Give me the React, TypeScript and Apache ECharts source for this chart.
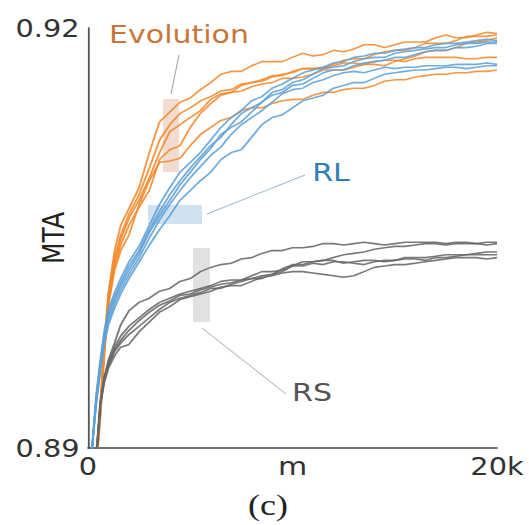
import React, { useEffect, useRef } from "react";
import * as echarts from "echarts";

// training step (m) shared by every run
const STEPS = [0, 200, 400, 600, 800, 1000, 1300, 1600, 2000, 2500, 3000, 3500, 4000, 4500, 5000, 5500,
  6000, 6500, 7000, 7500, 8000, 8500, 9000, 9500, 10000, 10500, 11000, 11500, 12000, 12500, 13000, 13500,
  14000, 14500, 15000, 15500, 16000, 16500, 17000, 17500, 18000, 18500, 19000, 19500, 20000];

const EVOLUTION_RUNS = [
  [0.8878, 0.8884, 0.8888, 0.8931, 0.8977, 0.9011, 0.9041, 0.9059, 0.9071, 0.9086, 0.9111, 0.9133, 0.9140, 0.9147, 0.9150, 0.9156,
    0.9161, 0.9167, 0.9169, 0.9169, 0.9173, 0.9176, 0.9176, 0.9176, 0.9179, 0.9182, 0.9180, 0.9181, 0.9184, 0.9183, 0.9185, 0.9188, 0.9188, 0.9186, 0.9188, 0.9190, 0.9190, 0.9190, 0.9193, 0.9195, 0.9193, 0.9193, 0.9195, 0.9197, 0.9196],
  [0.8876, 0.8882, 0.8887, 0.8927, 0.8974, 0.9009, 0.9036, 0.9052, 0.9067, 0.9081, 0.9100, 0.9120, 0.9131, 0.9139, 0.9143, 0.9148,
    0.9151, 0.9155, 0.9156, 0.9160, 0.9161, 0.9162, 0.9165, 0.9167, 0.9168, 0.9171, 0.9171, 0.9172, 0.9174, 0.9177, 0.9178, 0.9178, 0.9181, 0.9183, 0.9184, 0.9184, 0.9186, 0.9189, 0.9189, 0.9189, 0.9191, 0.9194, 0.9194, 0.9194, 0.9195],
  [0.8875, 0.8881, 0.8886, 0.8926, 0.8971, 0.9007, 0.9033, 0.9049, 0.9064, 0.9077, 0.9093, 0.9111, 0.9126, 0.9131, 0.9136, 0.9141,
    0.9149, 0.9153, 0.9154, 0.9155, 0.9158, 0.9160, 0.9161, 0.9164, 0.9164, 0.9165, 0.9167, 0.9170, 0.9170, 0.9170, 0.9172, 0.9174, 0.9174, 0.9173, 0.9176, 0.9178, 0.9180, 0.9183, 0.9184, 0.9184, 0.9186, 0.9189, 0.9190, 0.9191, 0.9193],
  [0.8874, 0.8880, 0.8885, 0.8924, 0.8970, 0.9004, 0.9030, 0.9045, 0.9059, 0.9072, 0.9084, 0.9106, 0.9113, 0.9116, 0.9129, 0.9139,
    0.9146, 0.9152, 0.9154, 0.9159, 0.9161, 0.9163, 0.9166, 0.9166, 0.9169, 0.9171, 0.9171, 0.9171, 0.9173, 0.9175, 0.9175, 0.9174, 0.9176, 0.9177, 0.9177, 0.9176, 0.9178, 0.9179, 0.9179, 0.9179, 0.9179, 0.9178, 0.9178, 0.9179, 0.9179],
  [0.8873, 0.8879, 0.8884, 0.8921, 0.8966, 0.9002, 0.9027, 0.9041, 0.9052, 0.9074, 0.9091, 0.9104, 0.9105, 0.9107, 0.9116, 0.9124,
    0.9129, 0.9134, 0.9136, 0.9141, 0.9143, 0.9143, 0.9146, 0.9148, 0.9149, 0.9149, 0.9152, 0.9154, 0.9154, 0.9156, 0.9157, 0.9157, 0.9159, 0.9162, 0.9163, 0.9163, 0.9165, 0.9166, 0.9167, 0.9167, 0.9168, 0.9168, 0.9169, 0.9169, 0.9170],
];

const RL_RUNS = [
  [0.8870, 0.8900, 0.8938, 0.8963, 0.8984, 0.8999, 0.9011, 0.9021, 0.9033, 0.9044, 0.9059, 0.9074, 0.9086, 0.9097, 0.9104, 0.9111,
    0.9120, 0.9129, 0.9136, 0.9141, 0.9148, 0.9151, 0.9157, 0.9160, 0.9164, 0.9168, 0.9170, 0.9172, 0.9175, 0.9176, 0.9179, 0.9180, 0.9182, 0.9182, 0.9184, 0.9185, 0.9186, 0.9186, 0.9188, 0.9189, 0.9189, 0.9190, 0.9191, 0.9192, 0.9191],
  [0.8870, 0.8900, 0.8936, 0.8960, 0.8981, 0.8996, 0.9008, 0.9018, 0.9030, 0.9041, 0.9056, 0.9069, 0.9081, 0.9091, 0.9100, 0.9108,
    0.9116, 0.9122, 0.9131, 0.9139, 0.9143, 0.9147, 0.9154, 0.9156, 0.9161, 0.9163, 0.9167, 0.9171, 0.9172, 0.9173, 0.9176, 0.9178, 0.9179, 0.9179, 0.9182, 0.9183, 0.9184, 0.9185, 0.9186, 0.9186, 0.9188, 0.9189, 0.9189, 0.9190, 0.9190],
  [0.8870, 0.8900, 0.8934, 0.8958, 0.8979, 0.8994, 0.9006, 0.9016, 0.9027, 0.9039, 0.9054, 0.9066, 0.9077, 0.9088, 0.9097, 0.9106,
    0.9114, 0.9124, 0.9129, 0.9133, 0.9140, 0.9147, 0.9152, 0.9154, 0.9159, 0.9160, 0.9164, 0.9168, 0.9170, 0.9170, 0.9173, 0.9175, 0.9176, 0.9177, 0.9179, 0.9179, 0.9181, 0.9183, 0.9184, 0.9184, 0.9186, 0.9186, 0.9187, 0.9189, 0.9189],
  [0.8870, 0.8900, 0.8933, 0.8956, 0.8977, 0.8991, 0.9003, 0.9013, 0.9024, 0.9036, 0.9050, 0.9063, 0.9074, 0.9084, 0.9093, 0.9101,
    0.9109, 0.9115, 0.9124, 0.9131, 0.9136, 0.9141, 0.9147, 0.9153, 0.9156, 0.9157, 0.9161, 0.9163, 0.9166, 0.9168, 0.9169, 0.9168, 0.9170, 0.9172, 0.9171, 0.9172, 0.9172, 0.9173, 0.9173, 0.9173, 0.9174, 0.9174, 0.9174, 0.9175, 0.9174],
  [0.8870, 0.8900, 0.8931, 0.8954, 0.8975, 0.8988, 0.9000, 0.9010, 0.9021, 0.9033, 0.9045, 0.9056, 0.9066, 0.9077, 0.9084, 0.9091,
    0.9097, 0.9106, 0.9111, 0.9113, 0.9122, 0.9131, 0.9136, 0.9138, 0.9143, 0.9148, 0.9150, 0.9152, 0.9157, 0.9159, 0.9161, 0.9161, 0.9164, 0.9167, 0.9168, 0.9169, 0.9170, 0.9170, 0.9171, 0.9172, 0.9172, 0.9171, 0.9172, 0.9173, 0.9173],
];

const RS_RUNS = [
  [0.8860, 0.8880, 0.8895, 0.8931, 0.8950, 0.8963, 0.8975, 0.8988, 0.8998, 0.9004, 0.9007, 0.9012, 0.9014, 0.9019, 0.9021, 0.9026,
    0.9029, 0.9031, 0.9032, 0.9035, 0.9036, 0.9039, 0.9041, 0.9041, 0.9043, 0.9043, 0.9044, 0.9046, 0.9046, 0.9045, 0.9046, 0.9047, 0.9046, 0.9045, 0.9046, 0.9047, 0.9047, 0.9047, 0.9047, 0.9046, 0.9047, 0.9047, 0.9046, 0.9047, 0.9047],
  [0.8860, 0.8880, 0.8893, 0.8933, 0.8951, 0.8961, 0.8972, 0.8980, 0.8987, 0.8993, 0.8999, 0.9004, 0.9007, 0.9010, 0.9012, 0.9014,
    0.9016, 0.9019, 0.9020, 0.9020, 0.9023, 0.9026, 0.9026, 0.9027, 0.9030, 0.9033, 0.9033, 0.9034, 0.9036, 0.9038, 0.9039, 0.9040, 0.9042, 0.9043, 0.9044, 0.9044, 0.9045, 0.9046, 0.9046, 0.9045, 0.9046, 0.9046, 0.9046, 0.9045, 0.9046],
  [0.8860, 0.8880, 0.8891, 0.8931, 0.8950, 0.8960, 0.8970, 0.8977, 0.8984, 0.8991, 0.8997, 0.9002, 0.9005, 0.9009, 0.9010, 0.9013,
    0.9015, 0.9017, 0.9018, 0.9020, 0.9021, 0.9021, 0.9024, 0.9028, 0.9031, 0.9031, 0.9033, 0.9034, 0.9034, 0.9032, 0.9033, 0.9034, 0.9034, 0.9033, 0.9034, 0.9036, 0.9036, 0.9036, 0.9037, 0.9038, 0.9038, 0.9038, 0.9039, 0.9040, 0.9040],
  [0.8860, 0.8880, 0.8890, 0.8931, 0.8949, 0.8959, 0.8969, 0.8975, 0.8981, 0.8987, 0.8993, 0.8999, 0.9004, 0.9007, 0.9009, 0.9011,
    0.9014, 0.9014, 0.9017, 0.9019, 0.9021, 0.9023, 0.9024, 0.9026, 0.9030, 0.9030, 0.9032, 0.9031, 0.9033, 0.9033, 0.9032, 0.9031, 0.9033, 0.9034, 0.9034, 0.9035, 0.9035, 0.9034, 0.9036, 0.9036, 0.9037, 0.9038, 0.9038, 0.9038, 0.9038],
  [0.8860, 0.8880, 0.8890, 0.8930, 0.8947, 0.8957, 0.8966, 0.8972, 0.8974, 0.8983, 0.8990, 0.8997, 0.9001, 0.9006, 0.9008, 0.9010,
    0.9012, 0.9015, 0.9016, 0.9016, 0.9019, 0.9022, 0.9023, 0.9025, 0.9026, 0.9026, 0.9025, 0.9024, 0.9023, 0.9022, 0.9023, 0.9026, 0.9029, 0.9030, 0.9031, 0.9031, 0.9032, 0.9033, 0.9034, 0.9035, 0.9036, 0.9036, 0.9036, 0.9035, 0.9036],
];

const X_TICKS = [0, 20000];
const X_TICK_LABELS = ["0", "20k"];
const Y_TICKS = [0.89, 0.92];
const Y_TICK_LABELS = ["0.89", "0.92"];
const X_NAME = "m";
const Y_NAME = "MTA";
const GROUP_NAMES = ["Evolution", "RL", "RS"];
const PANEL_LABEL = "(c)";

const SX = 1.2; // the figure is horizontally stretched
const FONT = "DejaVu Sans";

export default function App() {
  const ref = useRef<HTMLDivElement>(null);
  useEffect(() => {
    if (!ref.current) return;
    const chart = echarts.init(ref.current, undefined, { renderer: "svg" });
    const px = (v: number) => v / SX;

    const groups = [
      { name: GROUP_NAMES[0], runs: EVOLUTION_RUNS, color: "#f4892a" },
      { name: GROUP_NAMES[1], runs: RL_RUNS, color: "#5da1d8" },
      { name: GROUP_NAMES[2], runs: RS_RUNS, color: "#666666" },
    ];
    const series: any[] = [];
    groups.forEach((g) => {
      g.runs.forEach((ys, i) => {
        series.push({
          type: "line",
          name: `${g.name} ${i + 1}`,
          data: STEPS.map((x, j) => [x, ys[j]]),
          symbol: "none",
          showSymbol: false,
          clip: true,
          silent: true,
          lineStyle: { color: g.color, width: 1.6, opacity: 0.88 },
        });
      });
    });

    const option: any = {
      animation: false,
      grid: { left: px(88), top: 28, width: px(409), height: 420, containLabel: false, outerBoundsMode: "none" },
      xAxis: {
        type: "value",
        min: 0,
        max: 20000,
        name: X_NAME,
        nameLocation: "middle",
        nameGap: 6,
        nameMoveOverlap: false,
        nameTextStyle: { fontFamily: FONT, fontSize: 25, color: "#333", verticalAlign: "top" },
        axisLine: { show: true, lineStyle: { color: "#444", width: 1.5 } },
        axisTick: { show: false },
        splitLine: { show: false },
        axisLabel: {
          customValues: X_TICKS,
          formatter: (v: number) => X_TICK_LABELS[X_TICKS.indexOf(v)] ?? "",
          fontFamily: FONT,
          fontSize: 24,
          color: "#333",
          margin: 6,
        },
      },
      yAxis: {
        type: "value",
        min: 0.89,
        max: 0.92,
        name: Y_NAME,
        nameLocation: "middle",
        nameRotate: 90,
        nameGap: 16,
        nameMoveOverlap: false,
        nameTextStyle: { fontFamily: FONT, fontSize: 25, color: "#222" },
        axisLine: { show: true, lineStyle: { color: "#555", width: 1.5 } },
        axisTick: { show: false },
        splitLine: { show: false },
        axisLabel: {
          customValues: Y_TICKS,
          formatter: (v: number) => Y_TICK_LABELS[Y_TICKS.findIndex((t) => Math.abs(t - v) < 1e-9)] ?? "",
          fontFamily: FONT,
          fontSize: 24,
          color: "#333",
          margin: 7,
        },
      },
      graphic: [
        { type: "rect", z: 0, shape: { x: px(163), y: 99, width: px(16), height: 73 }, style: { fill: "rgba(232,190,170,0.55)" } },
        { type: "rect", z: 0, shape: { x: px(148), y: 205, width: px(54), height: 19 }, style: { fill: "rgba(170,200,225,0.55)" } },
        { type: "rect", z: 0, shape: { x: px(193), y: 248, width: px(17), height: 74 }, style: { fill: "rgba(200,200,200,0.55)" } },
        { type: "line", z: 5, shape: { x1: px(179), y1: 55, x2: px(171), y2: 94 }, style: { stroke: "#b0a8a0", lineWidth: 1 } },
        { type: "line", z: 5, shape: { x1: px(207), y1: 214, x2: px(305), y2: 175 }, style: { stroke: "#9fbccd", lineWidth: 1 } },
        { type: "line", z: 5, shape: { x1: px(202), y1: 328, x2: px(286), y2: 394 }, style: { stroke: "#b5b5b5", lineWidth: 1 } },
        { type: "text", z: 10, x: px(179), y: 34, style: { text: GROUP_NAMES[0], fill: "#c9763a", font: `25px "${FONT}"`, textAlign: "center", textVerticalAlign: "middle" } },
        { type: "text", z: 10, x: px(331), y: 172, style: { text: GROUP_NAMES[1], fill: "#2f7fb5", font: `25px "${FONT}"`, textAlign: "center", textVerticalAlign: "middle" } },
        { type: "text", z: 10, x: px(312), y: 392, style: { text: GROUP_NAMES[2], fill: "#555", font: `25px "${FONT}"`, textAlign: "center", textVerticalAlign: "middle" } },
        { type: "text", z: 10, x: px(268), y: 505, style: { text: PANEL_LABEL, fill: "#222", font: `30px "Liberation Serif"`, textAlign: "center", textVerticalAlign: "middle" } },
      ],
      series,
    };
    chart.setOption(option);
    return () => chart.dispose();
  }, []);
  return (
    <div
      ref={ref}
      style={{
        position: "absolute",
        left: 0,
        top: 0,
        width: 441,
        height: 525,
        transform: `scaleX(${SX})`,
        transformOrigin: "0 0",
        background: "#fff",
      }}
    />
  );
}
